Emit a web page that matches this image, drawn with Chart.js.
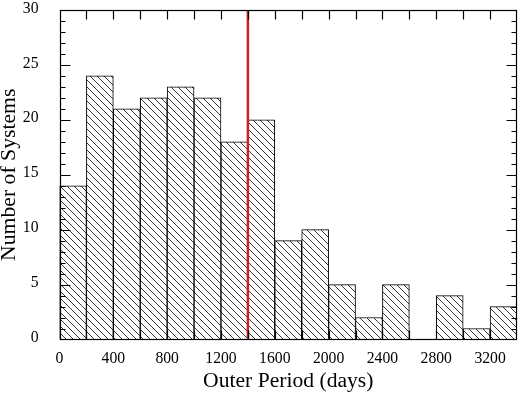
<!DOCTYPE html>
<html>
<head>
<meta charset="utf-8">
<script src="https://cdn.jsdelivr.net/npm/chart.js@4/dist/chart.umd.min.js"></script>
<style>
  html, body { margin: 0; padding: 0; background: #fff; }
  #wrap { width: 520px; height: 395px; }
</style>
</head>
<body>
<div id="wrap"><canvas id="c" width="520" height="395"></canvas></div>
<script>
// ---- data ----
const binStarts = [0, 200, 400, 600, 800, 1000, 1200, 1400, 1600, 1800, 2000, 2200, 2400, 2600, 2800, 3000, 3200];
const binWidth = 200;
const counts = [14, 24, 21, 22, 23, 22, 18, 20, 9, 10, 5, 2, 5, 0, 4, 1, 3];
const threshold = 1400;
const xTickLabels = [0, 400, 800, 1200, 1600, 2000, 2400, 2800, 3200];
const yTickLabels = [0, 5, 10, 15, 20, 25, 30];
const xRange = [0, 3400];
const yRange = [0, 30];

// hatch pattern
function makeHatch() {
  const s = 7;
  const c = document.createElement('canvas');
  c.width = s; c.height = s;
  const g = c.getContext('2d');
  g.fillStyle = '#ffffff';
  g.fillRect(0, 0, s, s);
  g.strokeStyle = '#383838';
  g.lineWidth = 1;
  g.beginPath();
  g.moveTo(-1, -1); g.lineTo(s + 1, s + 1);
  g.moveTo(-s - 1, -1); g.lineTo(1, s + 1);
  g.moveTo(s - 1, -1); g.lineTo(2 * s + 1, s + 1);
  g.stroke();
  return g.createPattern(c, 'repeat');
}
const ctx = document.getElementById('c').getContext('2d');
const hatch = makeHatch();

const barData = binStarts.map((b, i) => ({ x: b + binWidth / 2, y: counts[i] }));

const frameTicks = {
  id: 'frameTicks',
  afterDatasetsDraw(chart) {
    const { ctx, chartArea: a, scales: { x, y } } = chart;
    const L = Math.round(a.left) + 0.5, R = Math.round(a.right) - 0.5;
    const T = Math.round(a.top) + 0.5, B = Math.round(a.bottom) - 0.5;
    ctx.save();
    ctx.strokeStyle = '#000';
    ctx.lineWidth = 1.2;
    ctx.beginPath();
    for (let v = xRange[0] + binWidth; v < xRange[1]; v += binWidth) {
      const px = Math.round(x.getPixelForValue(v)) + 0.5;
      ctx.moveTo(px, T); ctx.lineTo(px, T + 9);
      ctx.moveTo(px, B); ctx.lineTo(px, B - 9);
    }
    for (let v = yRange[0] + 1; v < yRange[1]; v += 1) {
      const py = Math.round(y.getPixelForValue(v)) + 0.5;
      const len = (v % 5 === 0) ? 10 : 5;
      ctx.moveTo(L, py); ctx.lineTo(L + len, py);
      ctx.moveTo(R, py); ctx.lineTo(R - len, py);
    }
    ctx.stroke();
    ctx.strokeRect(L, T, R - L, B - T);
    ctx.restore();
  }
};

new Chart(ctx, {
  data: {
    datasets: [
      {
        type: 'bar',
        data: barData,
        backgroundColor: hatch,
        borderColor: '#000',
        borderWidth: 1,
        borderSkipped: 'start',
        barPercentage: 1,
        categoryPercentage: 1,
        order: 2
      },
      {
        type: 'line',
        data: [{ x: threshold, y: yRange[0] }, { x: threshold, y: yRange[1] }],
        borderColor: '#d02020',
        borderWidth: 2.5,
        pointRadius: 0,
        fill: false,
        order: 1
      }
    ]
  },
  options: {
    responsive: false,
    animation: false,
    devicePixelRatio: 1,
    layout: { padding: { top: 10, right: 3, left: 0, bottom: 0 } },
    plugins: { legend: { display: false }, tooltip: { enabled: false } },
    scales: {
      x: {
        type: 'linear',
        min: xRange[0], max: xRange[1],
        offset: false,
        grid: { display: false },
        border: { display: false },
        afterBuildTicks(s) { s.ticks = xTickLabels.map(v => ({ value: v })); },
        afterFit(s) { s.height = 55.5; s.paddingLeft = 0; s.paddingRight = 0; },
        ticks: {
          autoSkip: false, maxRotation: 0, padding: 2,
          color: '#000',
          font: { family: 'Liberation Serif', size: 15.7 },
          callback: v => String(v)
        },
        title: {
          display: true, text: 'Outer Period (days)', color: '#000',
          font: { family: 'Liberation Serif', size: 21.6, lineHeight: 1 },
          padding: { top: 0, bottom: 3 }
        }
      },
      y: {
        type: 'linear',
        min: yRange[0], max: yRange[1],
        grid: { display: false },
        border: { display: false },
        afterBuildTicks(s) { s.ticks = yTickLabels.map(v => ({ value: v })); },
        afterFit(s) { s.width = 59.5; s.paddingTop = 0; s.paddingBottom = 0; },
        ticks: {
          autoSkip: false, padding: 13, labelOffset: -1.5,
          color: '#000',
          font: { family: 'Liberation Serif', size: 15.7 },
          callback: v => String(v)
        },
        title: {
          display: true, text: 'Number of Systems', color: '#000',
          font: { family: 'Liberation Serif', size: 21.7, lineHeight: 0.9 },
          padding: { top: 0, bottom: 0 }
        }
      }
    }
  },
  plugins: [frameTicks]
});
</script>
</body>
</html>
